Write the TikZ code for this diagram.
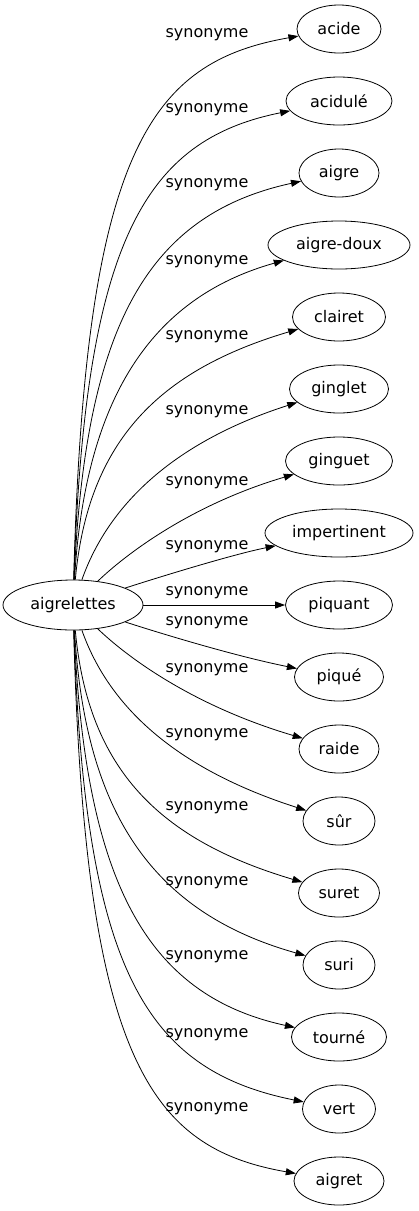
\documentclass[tikz,border=0pt]{standalone}
\usepackage{fontspec}
\setmainfont{DejaVu Sans}
\usetikzlibrary{shapes.geometric}
\usetikzlibrary{arrows.meta}
\tikzset{
  term/.style= {draw, ellipse, inner sep=0pt, minimum height=48pt, font=\fontsize{16}{18}\selectfont},
  head/.style= {minimum width=140pt, minimum height=50pt},
  lbl/.style= {inner sep=0pt, font=\fontsize{16}{18}\selectfont},
  syn/.style= {-{Triangle[length=10pt, width=7pt]}},
}

\begin{document}
\begin{tikzpicture}[x=1pt, y=-1pt, line width=0.8pt]
  \useasboundingbox (0,0) rectangle (419,1211);
  \node [term, head] (aigrelettes) at (73,605) {aigrelettes} ;
  \node [term, minimum width=84pt] (acide) at (339,29) {acide} ;
  \node [term, minimum width=106pt] (acidule) at (339,101) {acidulé} ;
  \node [term, minimum width=80pt] (aigre) at (339,173) {aigre} ;
  \node [term, minimum width=142pt] (aigredoux) at (339,245) {aigre-doux} ;
  \node [term, minimum width=93pt] (clairet) at (339,317) {clairet} ;
  \node [term, minimum width=99pt] (ginglet) at (339,389) {ginglet} ;
  \node [term, minimum width=107pt] (ginguet) at (339,461) {ginguet} ;
  \node [term, minimum width=148pt] (impertinent) at (339,533) {impertinent} ;
  \node [term, minimum width=107pt] (piquant) at (339,605) {piquant} ;
  \node [term, minimum width=89pt] (pique) at (339,677) {piqué} ;
  \node [term, minimum width=80pt] (raide) at (339,749) {raide} ;
  \node [term, minimum width=72pt] (sur) at (339,821) {sûr} ;
  \node [term, minimum width=81pt] (suret) at (339,893) {suret} ;
  \node [term, minimum width=72pt] (suri) at (339,965) {suri} ;
  \node [term, minimum width=95pt] (tourne) at (339,1037) {tourné} ;
  \node [term, minimum width=73pt] (vert) at (339,1109) {vert} ;
  \node [term, minimum width=90pt] (aigret) at (339,1181) {aigret} ;

  % relation labels
  \node [lbl] (s1) at (207,35) {synonyme} ;
  \node [lbl] (s2) at (207,110) {synonyme} ;
  \node [lbl] (s3) at (207,185) {synonyme} ;
  \node [lbl] (s4) at (207,262) {synonyme} ;
  \node [lbl] (s5) at (207,337) {synonyme} ;
  \node [lbl] (s6) at (207,412) {synonyme} ;
  \node [lbl] (s7) at (207,483) {synonyme} ;
  \node [lbl] (s8) at (207,547) {synonyme} ;
  \node [lbl] (s9) at (207,593) {synonyme} ;
  \node [lbl] (s10) at (207,623) {synonyme} ;
  \node [lbl] (s11) at (207,670) {synonyme} ;
  \node [lbl] (s12) at (207,735) {synonyme} ;
  \node [lbl] (s13) at (207,808) {synonyme} ;
  \node [lbl] (s14) at (207,883) {synonyme} ;
  \node [lbl] (s15) at (207,957) {synonyme} ;
  \node [lbl] (s16) at (207,1035) {synonyme} ;
  \node [lbl] (s17) at (207,1109) {synonyme} ;

  \draw [syn] (aigrelettes) .. controls (85,150) and (150,62) .. (acide) ;
  \draw [syn] (aigrelettes) .. controls (85,240) and (145,140) .. (acidule) ;
  \draw [syn] (aigrelettes) .. controls (85,330) and (145,215) .. (aigre) ;
  \draw [syn] (aigrelettes) .. controls (85,400) and (150,298) .. (aigredoux) ;
  \draw [syn] (aigrelettes) .. controls (88,440) and (160,370) .. (clairet) ;
  \draw [syn] (aigrelettes) .. controls (110,500) and (180,440) .. (ginglet) ;
  \draw [syn] (aigrelettes) .. controls (125,555) and (190,505) .. (ginguet) ;
  \draw [syn] (aigrelettes) .. controls (150,580) and (230,555) .. (impertinent) ;
  \draw [syn] (aigrelettes) -- (piquant) ;
  \draw [syn] (aigrelettes) .. controls (150,630) and (230,655) .. (pique) ;
  \draw [syn] (aigrelettes) .. controls (125,655) and (190,705) .. (raide) ;
  \draw [syn] (aigrelettes) .. controls (110,710) and (180,770) .. (sur) ;
  \draw [syn] (aigrelettes) .. controls (88,770) and (160,840) .. (suret) ;
  \draw [syn] (aigrelettes) .. controls (85,810) and (150,912) .. (suri) ;
  \draw [syn] (aigrelettes) .. controls (85,880) and (145,995) .. (tourne) ;
  \draw [syn] (aigrelettes) .. controls (85,970) and (145,1070) .. (vert) ;
  \draw [syn] (aigrelettes) .. controls (85,1060) and (150,1148) .. (aigret) ;
\end{tikzpicture}
\end{document}
